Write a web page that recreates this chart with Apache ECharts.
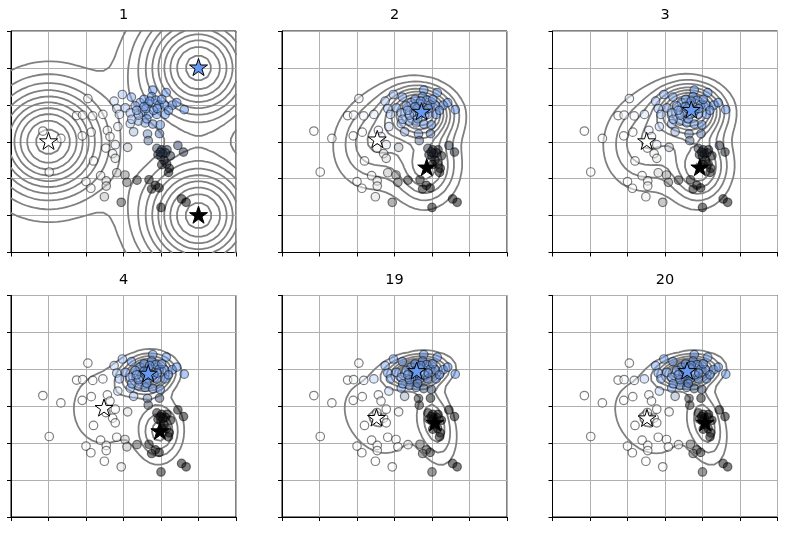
<!DOCTYPE html>
<html><head><meta charset="utf-8">
<script src="https://cdn.jsdelivr.net/npm/echarts@6/dist/echarts.min.js"></script>
<style>html,body{margin:0;padding:0;background:#fff}#c{width:796px;height:537px}</style>
</head><body><div id="c"></div>
<script>
// ---- data ----
const panelTitles = ['1', '2', '3', '4', '19', '20'];
const tickValues = [-3, -2, -1, 0, 1, 2, 3];
const ptX = [-0.95,-1.25,-1.09,-0.82,-0.55,-2.15,-1.67,-1.10,-0.86,-0.43,-0.36,-0.15,-0.47,-0.22,0.11,-0.29,-0.22,-0.80,-1.98,-0.61,-1.00,-0.46,-0.46,-0.87,-0.51,-0.18,0.04,0.09,0.36,-0.06,
 -0.25,-0.03,0.21,0.78,1.14,0.75,0.86,0.44,0.66,0.95,1.09,1.30,1.42,1.62,-0.18,0.05,0.31,0.51,-0.11,0.18,0.40,0.67,0.89,1.11,0.58,0.78,0.98,0.18,0.27,0.62,0.22,0.40,0.60,0.55,1.20,0.80,1.02,0.70,0.55,0.90,0.35,
 0.64,0.96,0.66,0.89,1.02,1.16,1.45,1.60,0.92,1.05,1.25,1.08,1.02,1.22,1.20,0.68,0.85,0.75,0.95,1.55,1.67,1.00,1.00,1.12,0.98,1.15];
const ptY = [1.17,0.71,0.72,0.70,0.74,0.29,0.09,0.16,0.26,0.31,0.14,0.41,-0.17,-0.08,-0.15,-0.32,-0.45,-0.52,-0.82,-0.92,-1.08,-1.06,-1.20,-1.26,-1.49,-0.84,-0.90,-1.10,-1.04,-1.64,
 1.10,1.28,1.21,1.40,1.33,1.22,1.13,1.06,1.04,1.00,0.99,0.99,1.06,0.87,0.90,0.92,0.97,0.80,0.74,0.78,0.56,0.74,0.74,0.74,0.51,0.48,0.46,0.49,0.27,0.62,0.61,0.72,0.90,1.15,0.85,0.85,1.15,1.10,0.95,0.90,0.85,
 0.21,0.22,0.03,-0.18,-0.22,-0.22,-0.10,-0.28,-0.35,-0.33,-0.38,-0.50,-0.62,-0.72,-0.83,-1.03,-1.18,-1.28,-1.25,-1.55,-1.64,-1.78,-0.40,-0.30,-0.28,-0.60];
// mixture parameters per panel (component order: blue, white, black)
const piBlue  = [0.333, 0.384, 0.391, 0.391, 0.394, 0.394];
const piWhite = [0.333, 0.351, 0.344, 0.342, 0.339, 0.339];
const piBlack = [0.334, 0.265, 0.266, 0.267, 0.267, 0.267];
const muBlue  = [[2, 2], [0.72, 0.80], [0.70, 0.85], [0.66, 0.87], [0.59, 0.94], [0.59, 0.94]];
const muWhite = [[-2, 0], [-0.46, 0.05], [-0.49, 0.00], [-0.52, -0.06], [-0.48, -0.33], [-0.48, -0.34]];
const muBlack = [[2, -2], [0.86, -0.71], [0.93, -0.71], [0.97, -0.69], [1.08, -0.46], [1.07, -0.46]];
// covariance [sxx, sxy, syy]
const sigBlue  = [[1,0,1],[0.300,-0.020,0.200],[0.310,-0.010,0.200],[0.165,0.012,0.095],[0.240,0.025,0.068],[0.240,0.025,0.068]];
const sigWhite = [[1,0,1],[0.477,0.072,0.594],[0.480,0.043,0.627],[0.463,0.004,0.633],[0.488,-0.159,0.597],[0.489,-0.159,0.597]];
const sigBlack = [[1,0,1],[0.258,0.017,0.378],[0.240,0.014,0.360],[0.140,0.008,0.260],[0.120,-0.075,0.450],[0.120,-0.075,0.450]];
const compColors = [[0.4, 0.6, 0.95], [1, 1, 1], [0, 0, 0]];

// ---- helpers ----
function gauss(x, y, m, s) {
  const a = s[0], b = s[1], d = s[2], det = a * d - b * b;
  const dx = x - m[0], dy = y - m[1];
  const q = (d * dx * dx - 2 * b * dx * dy + a * dy * dy) / det;
  return Math.exp(-0.5 * q) / (2 * Math.PI * Math.sqrt(det));
}
function comps(p) {
  return [[piBlue[p], muBlue[p], sigBlue[p]], [piWhite[p], muWhite[p], sigWhite[p]], [piBlack[p], muBlack[p], sigBlack[p]]];
}
function mixParts(p, x, y) { return comps(p).map(c => c[0] * gauss(x, y, c[1], c[2])); }
function toRgb(c) { return 'rgb(' + c.map(v => Math.round(Math.min(1, Math.max(0, v)) * 255)).join(',') + ')'; }
function pointColor(p, n) {
  const g = mixParts(p, ptX[n], ptY[n]); const s = g[0] + g[1] + g[2];
  const col = [0, 0, 0];
  for (let k = 0; k < 3; k++) for (let c = 0; c < 3; c++) col[c] += g[k] / s * compColors[k][c];
  return toRgb(col);
}
function levelsFor(zmin, zmax) {
  const nb = 11, dv = zmax - zmin, raw = dv / nb;
  const scale = Math.pow(10, Math.floor(Math.log10(raw)));
  const step = [1, 2, 2.5, 5, 10].map(s => s * scale).find(s => s >= raw * (1 - 1e-9));
  const lo = Math.floor(zmin / step) * step, out = [];
  for (let k = 0; k < 100; k++) { const v = lo + k * step; if (v >= zmax) break; if (v > zmin) out.push(v); }
  return out;
}
function contourLines(p) {
  const n = 40, xs = [];
  for (let i = 0; i < n; i++) xs.push(-3 + 6 * i / (n - 1));
  const f = [];
  let zmin = Infinity, zmax = -Infinity;
  for (let i = 0; i < n; i++) { f.push([]); for (let j = 0; j < n; j++) { const pr = mixParts(p, xs[i], xs[j]); const v = pr[0] + pr[1] + pr[2]; f[i].push(v); zmin = Math.min(zmin, v); zmax = Math.max(zmax, v); } }
  const polys = [];
  levelsFor(zmin, zmax).forEach(L => {
    const segs = [];
    const pt = (key) => {
      const t = key[0], i = +key.split('_')[0].slice(1), j = +key.split('_')[1];
      if (t === 'h') { const a = f[i][j], b = f[i + 1][j], u = (L - a) / (b - a); return [xs[i] + u * (xs[i + 1] - xs[i]), xs[j]]; }
      const a = f[i][j], b = f[i][j + 1], u = (L - a) / (b - a); return [xs[i], xs[j] + u * (xs[j + 1] - xs[j])];
    };
    for (let i = 0; i < n - 1; i++) for (let j = 0; j < n - 1; j++) {
      const v = [f[i][j], f[i + 1][j], f[i + 1][j + 1], f[i][j + 1]].map(q => q >= L);
      const e = ['h' + i + '_' + j, 'v' + (i + 1) + '_' + j, 'h' + i + '_' + (j + 1), 'v' + i + '_' + j];
      const cross = [v[0] !== v[1], v[1] !== v[2], v[2] !== v[3], v[3] !== v[0]];
      const idx = [0, 1, 2, 3].filter(k => cross[k]);
      if (idx.length === 2) segs.push([e[idx[0]], e[idx[1]]]);
      else if (idx.length === 4) {
        const c = (f[i][j] + f[i + 1][j] + f[i + 1][j + 1] + f[i][j + 1]) / 4 >= L;
        if (v[0] === c) { segs.push([e[0], e[1]]); segs.push([e[2], e[3]]); }
        else { segs.push([e[3], e[0]]); segs.push([e[1], e[2]]); }
      }
    }
    const byKey = {};
    segs.forEach((s, si) => s.forEach(k => (byKey[k] = byKey[k] || []).push(si)));
    const used = new Array(segs.length).fill(false);
    for (let s0 = 0; s0 < segs.length; s0++) {
      if (used[s0]) continue;
      used[s0] = true;
      let chain = [segs[s0][0], segs[s0][1]];
      for (let dir = 0; dir < 2; dir++) {
        while (true) {
          const endKey = chain[chain.length - 1];
          const nxt = (byKey[endKey] || []).find(si => !used[si]);
          if (nxt === undefined) break;
          used[nxt] = true;
          const s = segs[nxt];
          chain.push(s[0] === endKey ? s[1] : s[0]);
        }
        chain.reverse();
      }
      polys.push(chain.map(pt));
    }
  });
  return polys;
}
function starPath() {
  let d = '';
  for (let k = 0; k < 10; k++) {
    const a = -Math.PI / 2 + k * Math.PI / 5, r = k % 2 === 0 ? 1 : 0.381966;
    d += (k === 0 ? 'M' : 'L') + (r * Math.cos(a)).toFixed(4) + ' ' + (r * Math.sin(a)).toFixed(4) + ' ';
  }
  return 'path://' + d + 'Z';
}

// ---- layout ----
const gridLeft = [11, 282, 552.5], gridTop = [31, 295.5], gW = 225, gH = 221.5;
const grids = [], xAxes = [], yAxes = [], series = [], titles = [];
const STAR = starPath();
panelTitles.forEach((t, p) => {
  const col = p % 3, row = Math.floor(p / 3);
  grids.push({ left: gridLeft[col], top: gridTop[row], width: gW, height: gH, show: true, borderColor: '#000', borderWidth: 1, backgroundColor: 'transparent' });
  const ax = {
    gridIndex: p, type: 'value', min: tickValues[0], max: tickValues[tickValues.length - 1], interval: 1,
    axisLabel: { show: false },
    axisTick: { show: true, inside: false, length: 4, lineStyle: { color: '#000', width: 1 } },
    axisLine: { show: true, onZero: false, lineStyle: { color: '#000', width: 1 } },
    splitLine: { show: true, lineStyle: { color: '#b0b0b0', width: 1 } }
  };
  xAxes.push(Object.assign({}, ax));
  yAxes.push(Object.assign({}, ax));
  titles.push({ text: t, left: gridLeft[col] + gW / 2, top: gridTop[row] - 23, textAlign: 'center', padding: 0,
    textStyle: { fontFamily: 'DejaVu Sans', fontSize: 14.5, fontWeight: 'normal', color: '#000' } });
  series.push({
    type: 'lines', coordinateSystem: 'cartesian2d', xAxisIndex: p, yAxisIndex: p, polyline: true, silent: true, z: 2,
    lineStyle: { color: '#808080', width: 1.8, opacity: 1, cap: 'round', join: 'round' },
    data: contourLines(p).map(c => ({ coords: c }))
  });
  series.push({
    type: 'scatter', xAxisIndex: p, yAxisIndex: p, symbol: 'circle', symbolSize: 8.5, z: 3, silent: true,
    itemStyle: { borderColor: '#000', borderWidth: 1.2, opacity: 0.5 },
    data: ptX.map((x, n) => ({ value: [x, ptY[n]], itemStyle: { color: pointColor(p, n) } }))
  });
  const mus = [muBlue[p], muWhite[p], muBlack[p]];
  series.push({
    type: 'scatter', xAxisIndex: p, yAxisIndex: p, symbol: STAR, symbolSize: 18, symbolKeepAspect: true, symbolOffset: [0, '-5%'], z: 4, silent: true,
    itemStyle: { borderColor: '#000', borderWidth: 1, opacity: 1 },
    data: mus.map((m, k) => ({ value: m, itemStyle: { color: toRgb(compColors[k]) } }))
  });
});

const chart = echarts.init(document.getElementById('c'));
chart.setOption({ animation: false, backgroundColor: '#fff', title: titles, grid: grids, xAxis: xAxes, yAxis: yAxes, series: series });
</script></body></html>
